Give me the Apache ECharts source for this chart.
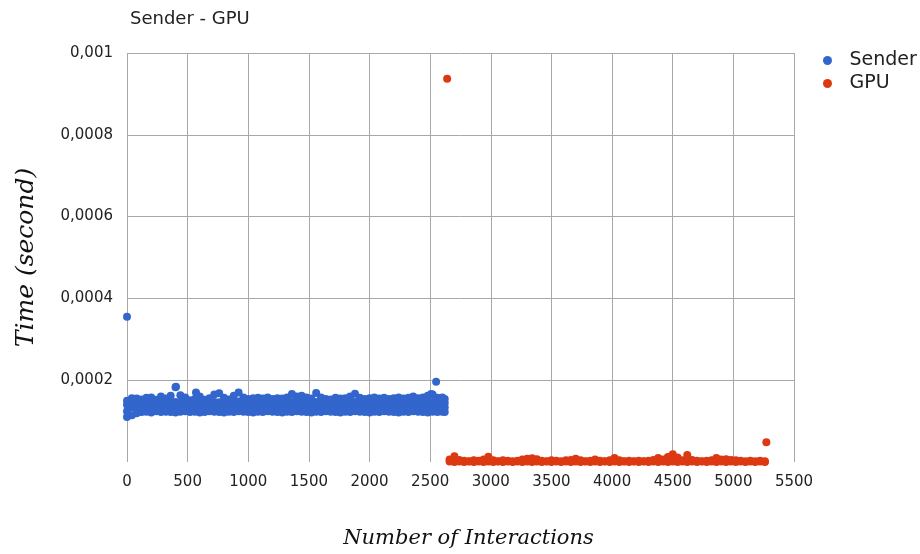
<!DOCTYPE html>
<html>
<head>
<meta charset="utf-8">
<script src="https://cdn.jsdelivr.net/npm/echarts@6/dist/echarts.min.js"></script>
<style>html,body{margin:0;padding:0;background:#fff}#c{width:920px;height:554px}</style>
</head>
<body>
<div id="c"></div>
<script>
const titleText = 'Sender - GPU';
const seriesNames = ['Sender', 'GPU'];
const xTicks = [0, 500, 1000, 1500, 2000, 2500, 3000, 3500, 4000, 4500, 5000, 5500];
const yTicks = [0, 0.0002, 0.0004, 0.0006, 0.0008, 0.001];

// Sender: dense band read as four rows (top envelope, two middle, bottom) per interaction step
const senderIter = [0,40,80,120,160,200,240,280,320,360,400,440,480,520,560,600,640,680,720,760,800,840,880,920,960,1000,1040,1080,1120,1160,1200,1240,1280,1320,1360,1400,1440,1480,1520,1560,1600,1640,1680,1720,1760,1800,1840,1880,1920,1960,2000,2040,2080,2120,2160,2200,2240,2280,2320,2360,2400,2440,2480,2520,2560,2600,2620];
const senderHigh = [0.000150,0.000156,0.000155,0.000153,0.000157,0.000158,0.000152,0.000160,0.000155,0.000162,
  0.000183,0.000163,0.000158,0.000151,0.000154,0.000160,0.000152,0.000156,0.000165,0.000168,
  0.000157,0.000153,0.000162,0.000170,0.000158,0.000154,0.000156,0.000157,0.000155,0.000158,
  0.000154,0.000156,0.000155,0.000158,0.000166,0.000160,0.000162,0.000158,0.000155,0.000169,
  0.000158,0.000154,0.000153,0.000157,0.000155,0.000156,0.000160,0.000167,0.000157,0.000154,
  0.000156,0.000158,0.000155,0.000157,0.000154,0.000156,0.000158,0.000155,0.000157,0.000160,
  0.000156,0.000158,0.000162,0.000165,0.000157,0.000158,0.000154];
const senderMidHigh = [0.000140,0.000145,0.000146,0.000144,0.000145,0.000146,0.000144,0.000145,0.000146,0.000145,
  0.000147,0.000146,0.000144,0.000145,0.000146,0.000145,0.000144,0.000146,0.000147,0.000146,
  0.000145,0.000144,0.000146,0.000148,0.000145,0.000144,0.000146,0.000145,0.000144,0.000146,
  0.000145,0.000144,0.000146,0.000145,0.000147,0.000146,0.000145,0.000144,0.000146,0.000147,
  0.000145,0.000144,0.000146,0.000145,0.000144,0.000146,0.000145,0.000147,0.000146,0.000144,
  0.000145,0.000146,0.000144,0.000145,0.000146,0.000144,0.000145,0.000146,0.000145,0.000146,
  0.000144,0.000145,0.000146,0.000147,0.000145,0.000146,0.000144];
const senderMid = [0.000124,0.000133,0.000134,0.000133,0.000135,0.000133,0.000134,0.000133,0.000135,0.000134,
  0.000133,0.000135,0.000133,0.000134,0.000133,0.000135,0.000134,0.000133,0.000134,0.000135,
  0.000134,0.000133,0.000134,0.000135,0.000134,0.000133,0.000135,0.000133,0.000134,0.000133,
  0.000135,0.000134,0.000133,0.000134,0.000135,0.000134,0.000133,0.000134,0.000135,0.000134,
  0.000133,0.000135,0.000133,0.000134,0.000133,0.000135,0.000134,0.000133,0.000134,0.000135,
  0.000134,0.000133,0.000134,0.000135,0.000134,0.000133,0.000135,0.000133,0.000134,0.000133,
  0.000135,0.000134,0.000133,0.000134,0.000135,0.000134,0.000133];
const senderLow = [0.000110,0.000114,0.000119,0.000122,0.000123,0.000121,0.000124,0.000122,0.000123,0.000122,
  0.000121,0.000123,0.000124,0.000122,0.000123,0.000121,0.000122,0.000124,0.000123,0.000122,
  0.000121,0.000123,0.000122,0.000124,0.000123,0.000122,0.000121,0.000123,0.000122,0.000124,
  0.000123,0.000122,0.000121,0.000123,0.000122,0.000124,0.000123,0.000122,0.000121,0.000123,
  0.000122,0.000124,0.000123,0.000122,0.000121,0.000123,0.000122,0.000124,0.000123,0.000122,
  0.000121,0.000123,0.000122,0.000124,0.000123,0.000122,0.000121,0.000123,0.000122,0.000124,
  0.000123,0.000122,0.000121,0.000123,0.000122,0.000123,0.000122];
const senderOutlierIter = [0, 404, 569, 2508, 2549];
const senderOutlierTime = [0.000355, 0.000184, 0.000170, 0.000166, 0.000196];

// GPU: thin band near zero with small bumps
const gpuIter = [2660,2700,2740,2780,2820,2860,2900,2940,2980,3020,3060,3100,3140,3180,3220,3260,3300,3340,3380,3420,3460,3500,3540,3580,3620,3660,3700,3740,3780,3820,3860,3900,3940,3980,4020,4060,4100,4140,4180,4220,4260,4300,4340,4380,4420,4460,4500,4540,4580,4620,4660,4700,4740,4780,4820,4860,4900,4940,4980,5020,5060,5100,5140,5180,5220,5260];
const gpuTime = [0.000006,0.000014,0.000005,0.000003,0.000002,0.000004,0.000003,0.000006,0.000013,0.000004,
  0.000002,0.000004,0.000003,0.000002,0.000003,0.000006,0.000008,0.000009,0.000007,0.000003,
  0.000002,0.000004,0.000003,0.000002,0.000004,0.000005,0.000008,0.000004,0.000002,0.000003,
  0.000006,0.000003,0.000002,0.000004,0.000010,0.000004,0.000002,0.000003,0.000002,0.000003,
  0.000002,0.000003,0.000005,0.000010,0.000006,0.000012,0.000019,0.000011,0.000004,0.000017,
  0.000005,0.000003,0.000002,0.000003,0.000004,0.000010,0.000006,0.000007,0.000005,0.000004,
  0.000003,0.000002,0.000003,0.000002,0.000003,0.000002];
const gpuBase = [0.000001,0.000000,0.000001,0.000000,0.000001,0.000000,0.000001,0.000000,0.000001,0.000000,
  0.000001,0.000000,0.000001,0.000000,0.000001,0.000000,0.000001,0.000000,0.000001,0.000000,
  0.000001,0.000000,0.000001,0.000000,0.000001,0.000000,0.000001,0.000000,0.000001,0.000000,
  0.000001,0.000000,0.000001,0.000000,0.000001,0.000000,0.000001,0.000000,0.000001,0.000000,
  0.000001,0.000000,0.000001,0.000000,0.000001,0.000000,0.000001,0.000000,0.000001,0.000000,
  0.000001,0.000000,0.000001,0.000000,0.000001,0.000000,0.000001,0.000000,0.000001,0.000000,
  0.000001,0.000000,0.000001,0.000000,0.000001,0.000000];
const gpuOutlierIter = [2640, 5272];
const gpuOutlierTime = [0.000937, 0.000048];

const pairs = (xs, ys) => xs.map((x, i) => [x, ys[i]]);
const senderData = [].concat(pairs(senderIter, senderLow), pairs(senderIter, senderMid), pairs(senderIter, senderMidHigh), pairs(senderIter, senderHigh), pairs(senderOutlierIter, senderOutlierTime));
const gpuData = [].concat(pairs(gpuIter, gpuBase), pairs(gpuIter, gpuTime), pairs(gpuOutlierIter, gpuOutlierTime));

const chart = echarts.init(document.getElementById('c'));
const gridColor = '#a8a8a8';
chart.setOption({
  animation: false,
  backgroundColor: '#ffffff',
  title: {
    text: titleText, left: 125, top: 5,
    textStyle: { fontFamily: 'DejaVu Sans', fontSize: 18, fontWeight: 'normal', color: '#222' }
  },
  legend: {
    data: seriesNames, orient: 'vertical', left: 818, top: 46,
    itemWidth: 34, itemHeight: 9, itemGap: 4, icon: 'circle',
    textStyle: { fontFamily: 'DejaVu Sans', fontSize: 19, color: '#222' }
  },
  grid: { left: 127, right: 126, top: 53, bottom: 86, containLabel: false },
  xAxis: {
    type: 'value', min: xTicks[0], max: xTicks[xTicks.length - 1], interval: 500,
    name: 'Number of Interactions', nameLocation: 'middle', nameGap: 66,
    nameTextStyle: { fontFamily: 'DejaVu Serif', fontStyle: 'italic', fontSize: 21, color: '#111', padding: [0, 0, 0, 16] },
    axisLine: { show: false }, axisTick: { show: false },
    axisLabel: { margin: 13, fontFamily: 'DejaVu Sans', fontSize: 15, color: '#222', formatter: v => String(v) },
    splitLine: { show: true, lineStyle: { color: gridColor, width: 1 } }
  },
  yAxis: {
    type: 'value', min: yTicks[0], max: yTicks[yTicks.length - 1], interval: 0.0002,
    name: 'Time (second)', nameLocation: 'middle', nameGap: 88,
    nameTextStyle: { fontFamily: 'DejaVu Serif', fontStyle: 'italic', fontSize: 25, color: '#111' },
    axisLine: { show: false }, axisTick: { show: false },
    axisLabel: {
      margin: 14, fontFamily: 'DejaVu Sans', fontSize: 15, color: '#222', showMinLabel: false,
      formatter: v => String(+(+v).toPrecision(6)).replace('.', ',')
    },
    splitLine: { show: true, showMinLine: false, lineStyle: { color: gridColor, width: 1 } }
  },
  series: [
    { name: seriesNames[0], type: 'scatter', data: senderData, symbolSize: 8, itemStyle: { color: '#3366cc', opacity: 1 }, clip: false },
    { name: seriesNames[1], type: 'scatter', data: gpuData, symbolSize: 8, itemStyle: { color: '#dc3912', opacity: 1 }, clip: false }
  ]
});
</script>
</body>
</html>
